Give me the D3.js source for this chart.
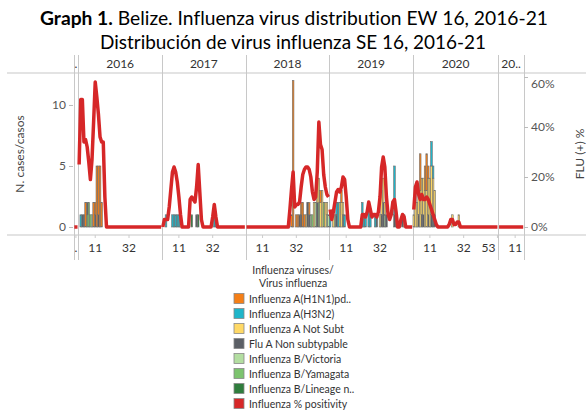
<!DOCTYPE html>
<html>
<head>
<meta charset="utf-8">
<script src="https://cdn.jsdelivr.net/npm/d3@7"></script>
<style>
body { margin: 0; background: #fff; }
text { font-family: Lato, "Open Sans", sans-serif; font-variant-ligatures: none; }
</style>
</head>
<body>
<div id="chart"></div>
<script>
var years = [".", "2016", "2017", "2018", "2019", "2020", "2021"];
var yearLabels = [".", "2016", "2017", "2018", "2019", "2020", "20.."];
var weeksPerYear = [3, 52, 52, 52, 52, 53, 16];
var weekTicks = [[2], [11, 32], [11, 32], [11, 32], [11, 32], [11, 32, 53], [11]];

// % positivity per epi week
var posDot = [0, 0, 0];
var pos2016 = [25,51,51,34,35,32,26,19,27,42,58,52,45,36,34,34,12,0,0,0,0,0,0,0,0,0,0,0,0,0,0,0,0,0,0,0,0,0,0,0,0,0,0,0,0,0,0,0,0,0,0,0];
var pos2017 = [0,3,3,3,8,15,22,24,22,18,12,5,0,0,0,0,0,11,12,11,10,16,25,14,3,0,0,0,0,0,0,4,9,4,0,0,0,0,0,0,0,0,0,0,0,0,0,0,0,0,0,0];
var pos2018 = [0,0,0,0,0,0,0,0,0,0,0,0,0,0,0,0,0,0,0,0,0,0,0,0,0,0,0,7,15,22,8,9,9,10,16,21,23,24,24,23,20,14,11,12,22,42,33,31,21,16,13,12];
var pos2019 = [7,3,6,10,14,15,14,16,20,19,12,3,0,0,0,0,0,0,0,0,5,5,4,6,10,7,4,5,5,4,6,12,24,28,24,12,5,3,5,10,11,6,0,0,3,5,4,0,0,0,0,0];
var pos2020 = [7,16,18,13,11,13,11,11,12,11,9,7,5,3,1,0,0,0,0,0,0,0,1,3,3,1,1,2,2,0,0,0,0,0,0,0,0,0,0,0,0,0,0,0,0,0,0,0,0,0,0,0,0];
var pos2021 = [0,0,0,0,0,0,0,0,0,0,0,0,0,0,0,0];
var positivity = [posDot, pos2016, pos2017, pos2018, pos2019, pos2020, pos2021];

// cases: [year, week, count]
var h1n1 = [["2016",5,2],["2016",10,2],["2016",11,1],["2016",12,5],["2016",13,4],["2016",14,5],["2016",15,2],
  ["2018",29,1],["2018",30,12],["2018",32,1],["2018",33,1],["2018",35,1],["2018",36,2],["2018",37,1],["2018",40,1],["2018",47,1],
  ["2019",8,1],["2020",2,1],["2020",5,3],["2020",8,2],["2020",9,3],["2020",10,1]];
var h3n2 = [["2016",2,1],["2017",3,1],["2017",7,1],["2017",8,1],["2017",9,1],["2017",10,1],["2017",11,1],["2017",33,1],["2017",34,1],
  ["2019",1,1],["2019",5,1],["2019",6,2],["2019",10,1],["2019",21,2],["2019",22,1],["2019",23,1],["2019",25,2],["2019",26,1],["2019",29,1],["2019",41,4],
  ["2020",12,2],["2020",13,1]];
var notSubt = [["2017",12,1],["2018",38,1],["2018",43,2],["2018",45,2],["2018",46,2],["2018",47,2],["2018",48,3],["2018",50,2],["2018",51,1],
  ["2019",3,1],["2019",7,2],["2019",8,2],["2019",9,1],["2019",32,1],["2019",33,2],["2019",34,2],["2019",35,1],["2019",47,1],
  ["2020",1,1],["2020",2,2],["2020",3,2],["2020",4,2],["2020",5,3],["2020",6,3],["2020",7,3],["2020",8,3],["2020",9,3],["2020",10,3],["2020",11,4],["2020",12,4],["2020",13,3],["2020",14,2],["2020",25,1],["2020",29,1]];
var nonSub = [["2016",3,1],["2016",4,1],["2016",6,1],["2016",11,1],["2016",13,1],["2017",22,1],
  ["2018",34,1],["2018",35,1],["2018",39,2],["2018",40,1],["2018",45,2],
  ["2019",5,1],["2019",9,1],["2019",30,1],["2019",33,1],["2019",34,2],["2019",36,1],["2019",41,1],["2019",46,1],
  ["2020",4,1],["2020",6,1],["2020",7,1],["2020",10,1],["2020",12,1],["2020",13,1],["2020",14,1]];
var bVic = [["2016",9,1],["2018",41,1],["2018",44,2],["2018",51,1],["2018",52,1],["2019",4,1],["2019",35,1]];
var bYam = [["2016",6,1],["2016",7,2],["2016",8,1],["2018",42,1],["2018",46,2],["2018",49,2]];
var bLin = [["2017",19,1],["2017",23,1],["2019",42,1]];

var seriesNames = ["Influenza A(H1N1)pd..", "Influenza A(H3N2)", "Influenza A Not Subt", "Flu A Non subtypable",
  "Influenza B/Victoria", "Influenza B/Yamagata", "Influenza B/Lineage n..", "Influenza % positivity"];
var seriesColors = ["#f57f17", "#1fb5c9", "#ffd966", "#5b5f66", "#b3dea1", "#7cc36e", "#2f7d3d", "#d62728"];

var svg = d3.select("#chart").append("svg").attr("width", 586).attr("height", 412);

var keys = [];
years.forEach(function(yr, i) { for (var w = 1; w <= weeksPerYear[i]; w++) keys.push(yr + "-" + w); });

var x = d3.scaleBand().domain(keys).range([73.5, 524]);
var bw = x.bandwidth();
var yL = d3.scaleLinear().domain([0, 12.62]).range([227, 73]);
var yR = d3.scaleLinear().domain([0, 0.616]).range([227, 73]);

// title
var t1 = svg.append("text").attr("x", 294).attr("y", 25).attr("text-anchor", "middle").attr("font-size", 18.5).attr("fill", "#000")
  .attr("textLength", 508).attr("lengthAdjust", "spacingAndGlyphs");
t1.append("tspan").attr("font-weight", "bold").text("Graph 1.");
t1.append("tspan").text(" Belize. Influenza virus distribution EW 16, 2016-21");
svg.append("text").attr("x", 293).attr("y", 49).attr("text-anchor", "middle").attr("font-size", 18.5).attr("fill", "#000")
  .attr("textLength", 386).attr("lengthAdjust", "spacingAndGlyphs").text("Distribución de virus influenza SE 16, 2016-21");

// frame lines
svg.append("line").attr("x1", 7).attr("x2", 586).attr("y1", 73).attr("y2", 73).attr("stroke", "#dadada").attr("stroke-width", 1.5);
svg.append("line").attr("x1", 7).attr("x2", 586).attr("y1", 235).attr("y2", 235).attr("stroke", "#dadada").attr("stroke-width", 1.5);

var panes = years.map(function(yr, i) {
  var a = x(yr + "-1"), b = x(yr + "-" + weeksPerYear[i]) + bw;
  return {year: yr, label: yearLabels[i], x0: a, x1: b, i: i};
});

svg.append("g").selectAll("line").data(panes).join("line")
  .attr("x1", d => Math.round(d.x0) + 0.5).attr("x2", d => Math.round(d.x0) + 0.5).attr("y1", 55).attr("y2", 260)
  .attr("stroke", "#c8c8c8");
svg.append("line").attr("x1", 524.5).attr("x2", 524.5).attr("y1", 55).attr("y2", 260).attr("stroke", "#c8c8c8");

svg.append("g").selectAll("text").data(panes).join("text")
  .attr("x", d => (d.x0 + d.x1) / 2).attr("y", 68).attr("text-anchor", "middle").attr("font-size", 12).attr("fill", "#333")
  .text(d => d.label);

// stacked bars
var typeKeys = ["bLin", "bYam", "bVic", "nonSub", "notSubt", "h3n2", "h1n1"];
var typeSrc = {bLin: bLin, bYam: bYam, bVic: bVic, nonSub: nonSub, notSubt: notSubt, h3n2: h3n2, h1n1: h1n1};
var typeColor = {h1n1: seriesColors[0], h3n2: seriesColors[1], notSubt: seriesColors[2], nonSub: seriesColors[3], bVic: seriesColors[4], bYam: seriesColors[5], bLin: seriesColors[6]};
var rows = keys.map(function(k) { var r = {key: k}; typeKeys.forEach(function(t) { r[t] = 0; }); return r; });
var rowByKey = {};
rows.forEach(function(r) { rowByKey[r.key] = r; });
typeKeys.forEach(function(t) { typeSrc[t].forEach(function(e) { rowByKey[e[0] + "-" + e[1]][t] += e[2]; }); });

var stacked = d3.stack().keys(typeKeys)(rows);
svg.append("g").selectAll("g").data(stacked).join("g").attr("fill", d => typeColor[d.key])
  .selectAll("rect").data(d => d.filter(s => s[1] > s[0])).join("rect")
  .attr("x", d => x(d.data.key)).attr("width", bw)
  .attr("y", d => yL(d[1])).attr("height", d => yL(d[0]) - yL(d[1]))
  .attr("stroke", "#6e6e6e").attr("stroke-width", 0.6);

// positivity line, one per pane
var line = d3.line().x(d => x(d.key) + bw / 2).y(d => yR(d.v / 100));
svg.append("g").selectAll("path").data(panes).join("path")
  .attr("d", function(p) { return line(positivity[p.i].map(function(v, j) { return {key: p.year + "-" + (j + 1), v: v}; })); })
  .attr("fill", "none").attr("stroke", "#d62728").attr("stroke-width", 3.5).attr("stroke-linejoin", "round").attr("stroke-linecap", "butt");

// axes
var axL = svg.append("g").attr("transform", "translate(73,0)")
  .call(d3.axisLeft(yL).tickValues([0, 5, 10]).tickSize(4).tickPadding(3));
axL.select(".domain").remove();
axL.selectAll("line").attr("stroke", "#bbb");
axL.selectAll("text").attr("font-size", 12).attr("fill", "#555").style("font-family", "Lato, 'Open Sans', sans-serif");

var axR = svg.append("g").attr("transform", "translate(524,0)")
  .call(d3.axisRight(yR).tickValues([0, 0.2, 0.4, 0.6]).tickFormat(d3.format(".0%")).tickSize(4).tickPadding(3));
axR.select(".domain").remove();
axR.selectAll("line").attr("stroke", "#bbb");
axR.selectAll("text").attr("font-size", 12).attr("fill", "#555").style("font-family", "Lato, 'Open Sans', sans-serif")
  .attr("dy", d => d === 0.6 ? "0.85em" : "0.32em");

var tickKeys = [];
panes.forEach(function(p) { weekTicks[p.i].forEach(function(w) { tickKeys.push(p.year + "-" + w); }); });
var axB = svg.append("g").attr("transform", "translate(0,235)")
  .call(d3.axisBottom(x).tickValues(tickKeys).tickSize(3).tickPadding(5)
    .tickFormat(function(k) { var p = k.split("-"); return p[0] === "." ? "." : p[1]; }));
axB.select(".domain").remove();
axB.selectAll("line").attr("stroke", "#ccc");
axB.selectAll("text").attr("font-size", 12).attr("fill", "#333").style("font-family", "Lato, 'Open Sans', sans-serif")
  .attr("dx", k => k === "2020-53" ? -9 : 0);

svg.append("text").attr("transform", "translate(24,154) rotate(-90)").attr("text-anchor", "middle")
  .attr("font-size", 12).attr("fill", "#444").text("N. cases/casos");
svg.append("text").attr("transform", "translate(584,154) rotate(-90)").attr("text-anchor", "middle")
  .attr("font-size", 12).attr("fill", "#444").text("FLU (+) %");

// legend
svg.append("text").attr("x", 293).attr("y", 274).attr("text-anchor", "middle").attr("font-size", 10.5).attr("fill", "#333").text("Influenza viruses/");
svg.append("text").attr("x", 293).attr("y", 287).attr("text-anchor", "middle").attr("font-size", 10.5).attr("fill", "#333").text("Virus influenza");
var leg = svg.append("g").selectAll("g").data(seriesNames).join("g")
  .attr("transform", (d, i) => "translate(234," + (293.5 + i * 15) + ")");
leg.append("rect").attr("width", 10).attr("height", 10).attr("fill", (d, i) => seriesColors[i]).attr("stroke", "#888").attr("stroke-width", 0.8);
leg.append("text").attr("x", 15).attr("y", 9).attr("font-size", 10.5).attr("fill", "#333").text(d => d);
</script>
</body>
</html>
